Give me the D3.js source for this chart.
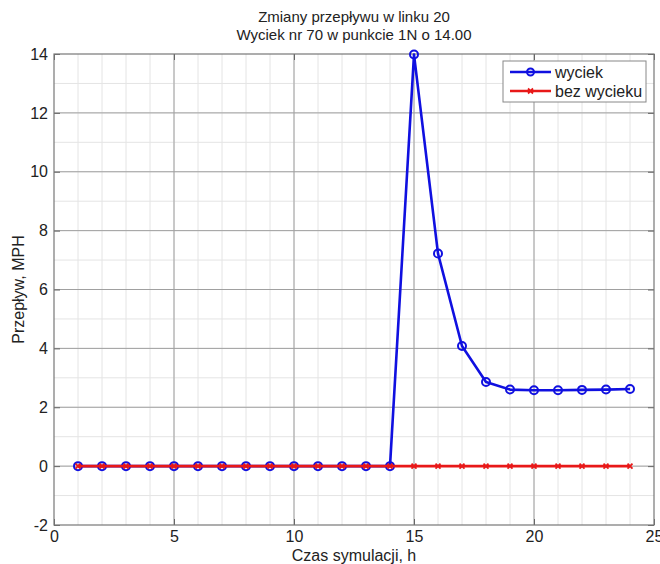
<!DOCTYPE html>
<html>
<head>
<meta charset="utf-8">
<script src="https://cdn.jsdelivr.net/npm/d3@7"></script>
<style>
  body { margin: 0; background: #fff; }
  svg { display: block; font-family: "Liberation Sans", Arial, sans-serif; }
</style>
</head>
<body>
<svg id="chart" width="660" height="564"></svg>
<script>
// Hours of simulation
const hours = d3.range(1, 25);
// Flow with the leak (starts at 14:00)
const withLeak = [0, 0, 0, 0, 0, 0, 0, 0, 0, 0, 0, 0, 0, 0,
                  13.98, 7.22, 4.08, 2.86, 2.60, 2.58, 2.58, 2.59, 2.60, 2.62];
// Flow without the leak
const noLeak = [0, 0, 0, 0, 0, 0, 0, 0, 0, 0, 0, 0,
                0, 0, 0, 0, 0, 0, 0, 0, 0, 0, 0, 0];
const xTicks = [0, 5, 10, 15, 20, 25];
const yTicks = [-2, 0, 2, 4, 6, 8, 10, 12, 14];
const titleLines = ["Zmiany przepływu w linku 20", "Wyciek nr 70 w punkcie 1N o 14.00"];
const seriesNames = ["wyciek", "bez wycieku"];

const svg = d3.select("#chart");
const m = { left: 54, right: 654, top: 54, bottom: 525 };
const x = d3.scaleLinear().domain([0, 25]).range([m.left, m.right]);
const y = d3.scaleLinear().domain([-2, 14]).range([m.bottom, m.top]);
const fmt = d => String(d);

// minor grid
const g = svg.append("g");
g.selectAll(".vx").data(d3.range(1, 25)).join("line")
  .attr("x1", d => x(d)).attr("x2", d => x(d))
  .attr("y1", m.top).attr("y2", m.bottom)
  .attr("stroke", "#e4e4e4").attr("stroke-width", 1);
g.selectAll(".hy").data(d3.range(-1, 14)).join("line")
  .attr("y1", d => y(d)).attr("y2", d => y(d))
  .attr("x1", m.left).attr("x2", m.right)
  .attr("stroke", "#e4e4e4").attr("stroke-width", 1);
// major grid
g.selectAll(".vxm").data(xTicks.slice(1, -1)).join("line")
  .attr("x1", d => x(d)).attr("x2", d => x(d))
  .attr("y1", m.top).attr("y2", m.bottom)
  .attr("stroke", "#a0a0a0").attr("stroke-width", 1);
g.selectAll(".hym").data(yTicks.slice(1, -1)).join("line")
  .attr("y1", d => y(d)).attr("y2", d => y(d))
  .attr("x1", m.left).attr("x2", m.right)
  .attr("stroke", "#a0a0a0").attr("stroke-width", 1);

// axes with inward ticks
const xAxis = svg.append("g").attr("transform", `translate(0,${m.bottom})`)
  .call(d3.axisBottom(x).tickValues(xTicks).tickSizeInner(-6).tickSizeOuter(0).tickPadding(6).tickFormat(fmt));
const yAxis = svg.append("g").attr("transform", `translate(${m.left},0)`)
  .call(d3.axisLeft(y).tickValues(yTicks).tickSizeInner(-6).tickSizeOuter(0).tickPadding(6).tickFormat(fmt));
[xAxis, yAxis].forEach(a => {
  a.select(".domain").remove();
  a.selectAll(".tick line").attr("stroke", "#666");
  a.selectAll("text").attr("font-size", 16).attr("fill", "#222")
    .attr("font-family", "Liberation Sans, Arial, sans-serif");
});
svg.append("g").attr("transform", `translate(${m.right},0)`)
  .call(d3.axisRight(y).tickValues(yTicks).tickSizeInner(-6).tickSizeOuter(0).tickFormat(""))
  .call(a => { a.select(".domain").remove(); a.selectAll(".tick line").attr("stroke", "#666"); });
svg.append("g").attr("transform", `translate(0,${m.top})`)
  .call(d3.axisTop(x).tickValues(xTicks).tickSizeInner(-6).tickSizeOuter(0).tickFormat(""))
  .call(a => { a.select(".domain").remove(); a.selectAll(".tick line").attr("stroke", "#666"); });

// frame
svg.append("rect").attr("x", m.left).attr("y", m.top)
  .attr("width", m.right - m.left).attr("height", m.bottom - m.top)
  .attr("fill", "none").attr("stroke", "#777").attr("stroke-width", 1.2);

// series
const lineGen = d3.line().x((d, i) => x(hours[i])).y(d => y(d));
svg.append("path").datum(withLeak).attr("d", lineGen)
  .attr("fill", "none").attr("stroke", "#1010e0").attr("stroke-width", 2.6)
  .attr("stroke-linejoin", "round");
svg.selectAll(".c").data(withLeak).join("circle")
  .attr("cx", (d, i) => x(hours[i])).attr("cy", d => y(d)).attr("r", 4)
  .attr("fill", "none").attr("stroke", "#1010e0").attr("stroke-width", 2);

svg.append("path").datum(noLeak).attr("d", lineGen)
  .attr("fill", "none").attr("stroke", "#e81818").attr("stroke-width", 2.6);
svg.selectAll(".xm").data(noLeak).join("path")
  .attr("transform", (d, i) => `translate(${x(hours[i])},${y(d)})`)
  .attr("d", "M-2.5,-2.5L2.5,2.5M-2.5,2.5L2.5,-2.5")
  .attr("stroke", "#e81818").attr("stroke-width", 1.8);

// legend
const lg = svg.append("g").attr("transform", "translate(503,61)");
lg.append("rect").attr("width", 143).attr("height", 41)
  .attr("fill", "#fff").attr("stroke", "#888").attr("stroke-width", 1);
const colors = ["#1010e0", "#e81818"];
seriesNames.forEach((name, i) => {
  const yy = 11 + i * 19;
  lg.append("line").attr("x1", 7).attr("x2", 48).attr("y1", yy).attr("y2", yy)
    .attr("stroke", colors[i]).attr("stroke-width", 2.6);
  if (i === 0) {
    lg.append("circle").attr("cx", 27.5).attr("cy", yy).attr("r", 3.5)
      .attr("fill", "none").attr("stroke", colors[i]).attr("stroke-width", 2);
  } else {
    lg.append("path").attr("transform", `translate(27.5,${yy})`)
      .attr("d", "M-2.5,-2.5L2.5,2.5M-2.5,2.5L2.5,-2.5")
      .attr("stroke", colors[i]).attr("stroke-width", 1.8);
  }
  lg.append("text").attr("x", 52).attr("y", yy + 5.5).text(name)
    .attr("font-size", 16).attr("fill", "#222");
});

// titles
svg.selectAll(".title").data(titleLines).join("text")
  .attr("x", 354).attr("y", (d, i) => 22 + i * 18)
  .attr("text-anchor", "middle").attr("font-size", 15).attr("fill", "#222")
  .text(d => d);

svg.append("text").attr("x", 354).attr("y", 561)
  .attr("text-anchor", "middle").attr("font-size", 16).attr("fill", "#222")
  .text("Czas symulacji, h");
svg.append("text")
  .attr("transform", `translate(24,${(m.top + m.bottom) / 2}) rotate(-90)`)
  .attr("text-anchor", "middle").attr("font-size", 16).attr("fill", "#222")
  .text("Przepływ, MPH");
</script>
</body>
</html>
